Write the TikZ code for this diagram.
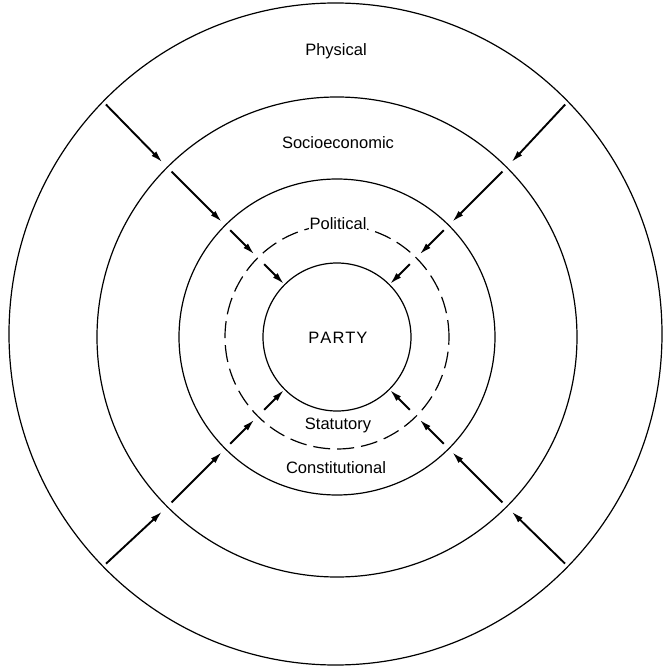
\documentclass[tikz,border=0pt]{standalone}
\usepackage{fontspec}
\setmainfont{Liberation Sans}
\usepackage{tikz}
\usetikzlibrary{arrows.meta,shapes.geometric}
\tikzset{
  ring/.style ={draw, circle, line width=1.2pt, inner sep=0pt, outer sep=0pt},
  lbl/.style  ={font=\fontsize{16.5}{19}\selectfont, inner sep=2pt},
  flow/.style ={-{Latex[length=12pt,width=6.5pt]}, line width=1.9pt}
}

\begin{document}
\begin{tikzpicture}[x=1pt,y=1pt]
  \useasboundingbox (-337,-330) rectangle (326,337);
  \node[ring, ellipse, minimum width=653pt, minimum height=662pt] (phys) at (-1.5,3) {};
  \node[ring, minimum size=480pt] (socio) at (0,0) {};
  \node[ring, minimum size=316pt] (const) at (0,0) {};
  \node[ring, dash pattern=on 17pt off 7pt, minimum size=224pt] (polit) at (0,0) {};
  \node[ring, minimum size=148pt] (party) at (0,0) {};
  \node[lbl] (physlbl) at (-1,286) {Physical};
  \node[lbl] (sociolbl) at (1,194) {Socioeconomic};
  \node[lbl, fill=white, inner sep=1pt] (politlbl) at (1,113) {Political};
  \node[lbl] (partylbl) at (1,-1) {P\kern1pt A\kern1pt R\kern1pt T\kern1pt Y};
  \node[lbl] (statlbl) at (1,-88) {Statutory};
  \node[lbl] (constlbl) at (-1,-131) {Constitutional};
  \foreach \a in {45,135,225,315}{
    \draw[flow, shorten <=4pt, shorten >=7pt] (phys.\a) -- (socio.\a);
    \draw[flow, shorten <=6pt, shorten >=5pt] (socio.\a) -- (const.\a);
    \draw[flow, shorten <=7pt, shorten >=5pt] (const.\a) -- (polit.\a);
    \draw[flow, shorten <=9pt, shorten >=1pt] (polit.\a) -- (party.\a);
  }
\end{tikzpicture}
\end{document}
